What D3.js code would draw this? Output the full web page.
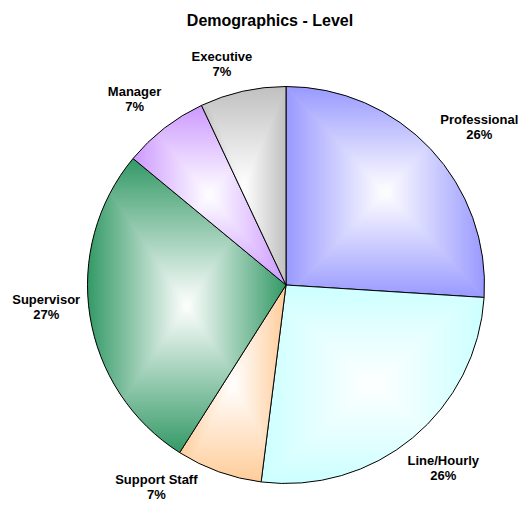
<!DOCTYPE html>
<html>
<head>
<meta charset="utf-8">
<script src="https://cdn.jsdelivr.net/npm/d3@7/dist/d3.min.js"></script>
<style>
  html, body { margin: 0; padding: 0; background: #fff; }
  svg { display: block; }
  text { font-family: "Liberation Sans", Arial, sans-serif; font-weight: bold; fill: #000; }
</style>
</head>
<body>
<svg id="chart" width="529" height="505"></svg>
<script>
// Staff breakdown by level (percent of total)
const categories = ["Professional", "Line/Hourly", "Support Staff", "Supervisor", "Manager", "Executive"];
const shares = [26, 26, 7, 27, 7, 7];
const sliceColors = ["#9999ff", "#ccffff", "#ffcc99", "#339966", "#cc99ff", "#c0c0c0"];
const chartTitle = "Demographics - Level";

const W = 529, H = 505;
const cx = 286, cy = 285, R = 198.5;

const svg = d3.select("#chart");
const defs = svg.append("defs");

svg.append("text")
  .attr("x", 270).attr("y", 25.5)
  .attr("text-anchor", "middle")
  .style("font-size", "16px")
  .text(chartTitle);

const data = categories.map((c, i) => ({ name: c, value: shares[i], color: sliceColors[i] }));

const pie = d3.pie().value(d => d.value).sort(null).startAngle(0).endAngle(2 * Math.PI);
const arc = d3.arc().innerRadius(0).outerRadius(R);
const arcs = pie(data);

const g = svg.append("g").attr("transform", `translate(${cx},${cy})`);

// Each slice gets a rectangular "from centre" fill: white in the middle of
// its bounding box, fading out to the slice colour at the box edges.
arcs.forEach((a, i) => {
  const d = arc(a);
  const tmp = g.append("path").attr("d", d);
  const bb = tmp.node().getBBox();
  tmp.remove();
  const x0 = bb.x, y0 = bb.y, x1 = bb.x + bb.width, y1 = bb.y + bb.height;
  const mx = (x0 + x1) / 2, my = (y0 + y1) / 2;

  const clipId = "clip" + i;
  defs.append("clipPath").attr("id", clipId).append("path").attr("d", d);

  const sg = g.append("g").attr("clip-path", `url(#${clipId})`);
  sg.append("rect").attr("x", x0).attr("y", y0).attr("width", bb.width).attr("height", bb.height)
    .attr("fill", d3.interpolateRgb(a.data.color, "#fff")(0.5));

  const sides = [
    { pts: [[x0, y0], [x1, y0], [mx, my]], from: [mx, y0] },
    { pts: [[x1, y0], [x1, y1], [mx, my]], from: [x1, my] },
    { pts: [[x1, y1], [x0, y1], [mx, my]], from: [mx, y1] },
    { pts: [[x0, y1], [x0, y0], [mx, my]], from: [x0, my] }
  ];
  sides.forEach((s, k) => {
    const gid = `grad${i}_${k}`;
    const lg = defs.append("linearGradient").attr("id", gid)
      .attr("gradientUnits", "userSpaceOnUse")
      .attr("x1", s.from[0]).attr("y1", s.from[1])
      .attr("x2", mx).attr("y2", my);
    lg.append("stop").attr("offset", 0).attr("stop-color", a.data.color);
    lg.append("stop").attr("offset", 1).attr("stop-color", "#ffffff");
    // a thin matching stroke hides the seams between neighbouring triangles
    sg.append("polygon")
      .attr("points", s.pts.map(p => p.join(",")).join(" "))
      .attr("fill", `url(#${gid})`)
      .attr("stroke", `url(#${gid})`)
      .attr("stroke-width", 0.6);
  });

  g.append("path").attr("d", d)
    .attr("fill", "none")
    .attr("stroke", "#000")
    .attr("stroke-width", 1)
    .attr("stroke-linejoin", "round");
});

// Labels: placed just outside the rim along each slice's mid-angle,
// with the text block pushed outward by half its size.
const labelNudge = {
  "Professional": [3, 2.5],
  "Line/Hourly": [-7, 2],
  "Support Staff": [-40.5, -18.5],
  "Supervisor": [13, -14.5],
  "Manager": [1, -1],
  "Executive": [-9, 8]
};
const labelR = R + 23.5;
const blockH = 25;

arcs.forEach(a => {
  const ang = (a.startAngle + a.endAngle) / 2;
  const s = Math.sin(ang), c = -Math.cos(ang);
  const t = g.append("text").attr("text-anchor", "middle").style("font-size", "13px");
  const l1 = t.append("tspan").text(a.data.name);
  const w = l1.node().getComputedTextLength();
  const nud = labelNudge[a.data.name] || [0, 0];
  const lx = labelR * s + (w / 2) * s + nud[0];
  const ly = labelR * c + (blockH / 2) * c + nud[1];
  l1.attr("x", lx).attr("y", ly - 3);
  t.append("tspan").attr("x", lx).attr("y", ly + 12).text(d3.format("d")(a.data.value) + "%");
});
</script>
</body>
</html>
